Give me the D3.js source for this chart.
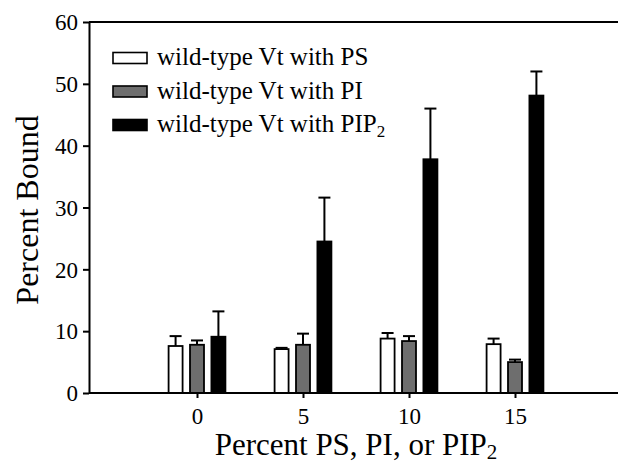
<!DOCTYPE html>
<html>
<head>
<meta charset="utf-8">
<script src="https://cdn.jsdelivr.net/npm/d3@7"></script>
<style>
  body { margin: 0; background: #fff; }
  svg text { font-family: "Liberation Serif", "Times New Roman", serif; fill: #000; }
</style>
</head>
<body>
<svg class="display"></svg>
<script>
const categories = [0, 5, 10, 15];
const seriesNames = ['wild-type Vt with PS', 'wild-type Vt with PI', 'wild-type Vt with PIP'];
const seriesFills = ['#ffffff', '#6e6e6e', '#000000'];

const psMean = [7.6, 7.1, 8.8, 7.9];
const psErr = [1.6, 0.2, 0.9, 0.9];
const piMean = [7.8, 7.8, 8.4, 5.0];
const piErr = [0.7, 1.8, 0.8, 0.4];
const pip2Mean = [9.1, 24.5, 37.8, 48.1];
const pip2Err = [4.1, 7.1, 8.2, 3.9];

const yTicks = [0, 10, 20, 30, 40, 50, 60];

const width = 618;
const height = 464;
const serif = '"Liberation Serif", "Times New Roman", serif';

const svg = d3.select('.display')
  .attr('width', width)
  .attr('height', height);

const x = d3.scaleLinear().domain([-5, 20]).range([91, 621]);
const y = d3.scaleLinear().domain([0, 60]).range([393, 22]);

const series = [
  { mean: psMean, err: psErr },
  { mean: piMean, err: piErr },
  { mean: pip2Mean, err: pip2Err }
];

const offset = 1.01;   // in x units between bars of one group
const barW = x(0.66) - x(0);

const bars = [];
series.forEach((s, si) => {
  categories.forEach((c, ci) => {
    bars.push({ si, c, v: s.mean[ci], e: s.err[ci] });
  });
});

// frame: top line
svg.append('line')
  .attr('x1', 89).attr('x2', width)
  .attr('y1', y(60)).attr('y2', y(60))
  .attr('stroke', '#000').attr('stroke-width', 2);

// error bars (upper only)
const eb = svg.append('g');
eb.selectAll('line.stem')
  .data(bars)
  .enter().append('line')
    .attr('x1', d => x(d.c + (d.si - 1) * offset))
    .attr('x2', d => x(d.c + (d.si - 1) * offset))
    .attr('y1', d => y(d.v))
    .attr('y2', d => y(d.v + d.e))
    .attr('stroke', '#000').attr('stroke-width', 2);
eb.selectAll('line.cap')
  .data(bars)
  .enter().append('line')
    .attr('x1', d => x(d.c + (d.si - 1) * offset) - 6)
    .attr('x2', d => x(d.c + (d.si - 1) * offset) + 6)
    .attr('y1', d => y(d.v + d.e))
    .attr('y2', d => y(d.v + d.e))
    .attr('stroke', '#000').attr('stroke-width', 2);

svg.append('g').selectAll('rect')
  .data(bars)
  .enter().append('rect')
    .attr('x', d => x(d.c + (d.si - 1) * offset) - barW / 2)
    .attr('y', d => y(d.v))
    .attr('width', barW)
    .attr('height', d => y(0) - y(d.v))
    .attr('fill', d => seriesFills[d.si])
    .attr('stroke', '#000')
    .attr('stroke-width', 1.8);

// axes
const xAxis = svg.append('g')
  .attr('transform', 'translate(0,' + y(0) + ')')
  .call(d3.axisBottom(x).tickValues(categories).tickSize(5).tickSizeOuter(0).tickPadding(10))
  .attr('font-family', serif)
  .attr('font-size', 23);
xAxis.select('.domain').remove();
xAxis.append('line')
  .attr('x1', 89).attr('x2', width)
  .attr('stroke', '#000').attr('stroke-width', 2);
xAxis.selectAll('.tick line').attr('stroke-width', 2);
xAxis.selectAll('.tick text').style('font-family', serif);

const yAxis = svg.append('g')
  .attr('transform', 'translate(89,0)')
  .call(d3.axisLeft(y).tickValues(yTicks).tickSize(6).tickSizeOuter(0).tickPadding(5))
  .attr('font-family', serif)
  .attr('font-size', 23);
yAxis.select('.domain').attr('stroke-width', 2);
yAxis.selectAll('.tick line').attr('stroke-width', 2);
yAxis.selectAll('.tick text').attr('dy', '0.34em').style('font-family', serif);

// axis titles
svg.append('text')
  .attr('transform', 'translate(38,' + 210 + ') rotate(-90)')
  .attr('text-anchor', 'middle')
  .attr('font-size', 32)
  .text('Percent Bound');

const xt = svg.append('text')
  .attr('x', 356)
  .attr('y', 455)
  .attr('text-anchor', 'middle')
  .attr('font-size', 31)
  .text('Percent PS, PI, or PIP');
xt.append('tspan')
  .attr('font-size', 21)
  .attr('dy', 4)
  .text('2');

// legend
const legend = svg.append('g');
seriesNames.forEach((name, i) => {
  const cy = 58 + i * 33.5;
  legend.append('rect')
    .attr('x', 113).attr('y', cy - 5.5)
    .attr('width', 34).attr('height', 11)
    .attr('fill', seriesFills[i])
    .attr('stroke', '#000').attr('stroke-width', 1.6);
  const t = legend.append('text')
    .attr('x', 157).attr('y', cy + 7)
    .attr('font-size', 25)
    .text(name);
  if (i === 2) {
    t.append('tspan').attr('font-size', 17).attr('dy', 5).text('2');
  }
});
</script>
</body>
</html>
